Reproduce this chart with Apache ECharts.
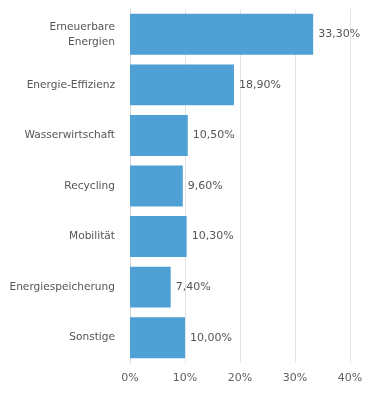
<!DOCTYPE html>
<html><head><meta charset="utf-8">
<script src="https://cdn.jsdelivr.net/npm/echarts@6/dist/echarts.min.js"></script>
<style>html,body{margin:0;padding:0;background:#fff}#c{width:370px;height:400px}</style>
</head><body><div id="c"></div>
<script>
const categories = ["Erneuerbare\nEnergien", "Energie-Effizienz", "Wasserwirtschaft", "Recycling", "Mobilität", "Energiespeicherung", "Sonstige"];
const values = [33.3, 18.9, 10.5, 9.6, 10.3, 7.4, 10.0];
const xTicks = [0, 10, 20, 30, 40];

const chart = echarts.init(document.getElementById('c'), null, {renderer: 'canvas'});
const font = 'DejaVu Sans';
chart.setOption({
  animation: false,
  grid: {left: 130, right: 20, top: 9, bottom: 37, containLabel: false},
  xAxis: {
    type: 'value', min: xTicks[0], max: xTicks[xTicks.length - 1], interval: 10,
    axisLine: {show: false}, axisTick: {show: false},
    splitLine: {lineStyle: {color: '#e3e3e3', width: 1}},
    axisLabel: {formatter: v => v + '%', color: '#606060', fontFamily: font, fontSize: 11, margin: 10}
  },
  yAxis: {
    type: 'category', data: categories, inverse: true,
    axisLine: {lineStyle: {color: '#d8d8d8'}},
    axisTick: {length: 10, lineStyle: {color: '#d8d8d8'}},
    axisLabel: {color: '#555', fontFamily: font, fontSize: 10.6, margin: 15, lineHeight: 15}
  },
  series: [{
    type: 'bar', data: values, barCategoryGap: '19%',
    itemStyle: {color: '#4fa1d5'},
    label: {show: true, position: 'right', distance: 5, color: '#555', fontFamily: font, fontSize: 11,
      formatter: p => p.value.toFixed(2).replace('.', ',') + '%'}
  }]
});
</script></body></html>
